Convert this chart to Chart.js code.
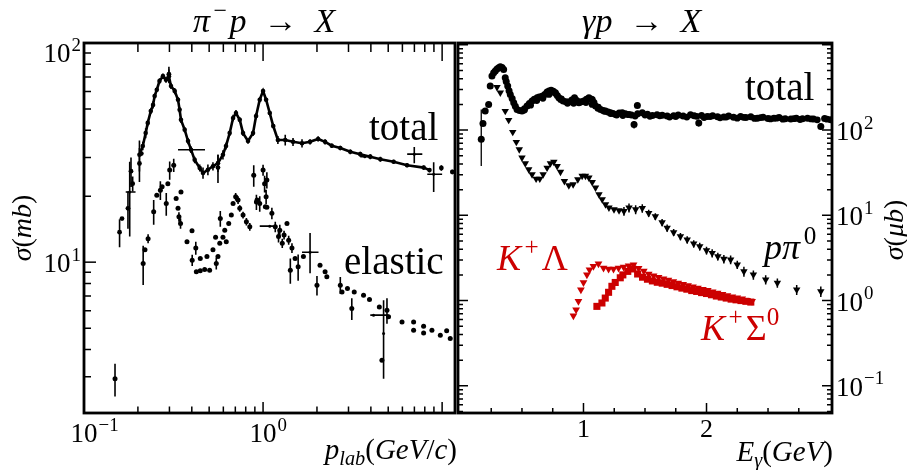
<!DOCTYPE html>
<html>
<head>
<meta charset="utf-8">
<script src="https://cdn.jsdelivr.net/npm/chart.js@4.4.1/dist/chart.umd.min.js"></script>
<style>
  html, body { margin: 0; padding: 0; background: #fff; }
  #wrap { position: relative; width: 907px; height: 470px; }
  #wrap canvas { position: absolute; left: 0; top: 0; }
</style>
</head>
<body>
<div id="wrap">
  <canvas id="pion-chart" width="907" height="470"></canvas>
  <canvas id="photo-chart" width="907" height="470"></canvas>
</div>
<script>
// ---- pi- p : total cross section (mb) vs p_lab (GeV/c) ----
var piTotP = [0.204, 0.213, 0.221, 0.227, 0.236, 0.243, 0.248, 0.255, 0.264, 0.276, 0.287, 0.298, 0.306, 0.321, 0.335,
              0.342, 0.348, 0.365, 0.381, 0.396, 0.415, 0.443, 0.462, 0.492, 0.525, 0.560, 0.597, 0.621, 0.651, 0.680,
              0.706, 0.741, 0.773, 0.824, 0.879, 0.914, 0.958, 1.0, 1.04, 1.09, 1.14, 1.21, 1.33, 1.47, 1.65,
              1.83, 2.03, 2.22, 2.42, 2.70, 3.07, 3.49, 3.97, 4.52, 5.36, 6.37, 7.89, 8.5];
var piTotS = [30.9, 33.9, 38.8, 43.2, 48.9, 52.2, 57.3, 61.2, 67.0, 70.6, 67.9, 70.6, 63.7, 60.4, 55.1,
              49.6, 44.6, 40.2, 35.7, 32.6, 29.3, 26.9, 25.5, 26.4, 27.4, 28.3, 30.9, 33.9, 38.8, 45.5,
              47.9, 44.6, 38.8, 35.7, 38.8, 46.4, 55.1, 60.4, 55.1, 47.9, 41.8, 36.1, 36.1, 35.4, 34.9,
              35.4, 36.5, 35.4, 34.0, 33.2, 31.9, 31.1, 30.3, 29.5, 28.7, 27.7, 27.0, 26.3];
var piTotErr = [5, 1.5, 2, 1.5, 1.5, 2, 1.5, 1.5, 2, 2, 2, 5, 2, 2, 1.5,
                1.5, 1.5, 1.2, 1.2, 1, 1, 1, 1.5, 1.5, 1.2, 2.5, 1.5, 1.2, 1.2, 1.5,
                1.5, 1.2, 1.2, 1, 1.2, 1.5, 1.5, 1.5, 1.2, 1.2, 1, 1.5, 2, 1.5, 1.5,
                1, 1, 1, 0.8, 0.8, 0.8, 0.8, 0.8, 0.8, 0.6, 0.6, 0.6, 0.6];

// scattered total measurements (threshold region and high-momentum tail)
var piLowP = [0.158, 0.163, 0.176, 0.183, 0.187, 0.204, 0.209, 0.56, 9.9, 11.4, 0.298];
var piLowS = [13.7, 15.8, 17.6, 26.0, 22.8, 28.2, 31.3, 27.0, 26.9, 25.8, 72];
var piLowErr = [2.0, 0, 3.4, 4, 1.8, 5, 0, 4, 0.8, 0.6, 6];

// ---- pi- p : elastic cross section (mb) ----
var piElP = [0.149, 0.214, 0.219, 0.228, 0.245, 0.255, 0.267, 0.273, 0.288, 0.294,
             0.301, 0.317, 0.327, 0.335, 0.339, 0.348, 0.346, 0.376, 0.401, 0.402,
             0.421, 0.424, 0.446, 0.446, 0.472, 0.486, 0.503, 0.525, 0.543, 0.548,
             0.560, 0.573, 0.577, 0.597, 0.611, 0.623, 0.643, 0.665, 0.680, 0.703,
             0.725, 0.741, 0.773, 0.807, 0.843, 0.887, 0.918, 0.926, 0.958, 1.0,
             1.02, 1.03, 1.04, 1.05, 1.05, 1.12, 1.17, 1.22, 1.24, 1.28,
             1.31, 1.36, 1.39, 1.42, 1.45, 1.51, 1.57, 1.68, 2.0, 2.08,
             2.22, 2.27, 2.70, 2.76, 2.96, 3.13, 3.23, 3.64, 3.93, 4.46,
             4.61, 4.92, 5.02, 5.97, 6.93, 6.93, 7.88, 7.88, 8.77, 9.77,
             10.6, 11.1];
var piElS = [2.94, 9.87, 11.4, 12.8, 17.0, 20.2, 21.3, 22.1, 18.5, 22.8,
             26.3, 27.7, 19.5, 17.6, 16.1, 20.9, 15.0, 12.4, 13.9, 10.2,
             11.6, 9.03, 10.4, 9.14, 9.27, 10.6, 9.18, 11.4, 13.0, 9.87,
             10.6, 12.2, 15.8, 13.0, 14.0, 12.4, 15.0, 16.4, 18.5, 19.9,
             19.2, 17.6, 16.4, 15.3, 14.5, 24.9, 18.8, 19.2, 18.5, 26.3,
             22.8, 17.9, 19.9, 23.7, 17.8, 16.7, 14.5, 13.1, 14.0, 12.2,
             13.3, 15.0, 12.6, 9.18, 11.6, 10.4, 9.53, 10.6, 7.85, 9.68,
             9.03, 8.57, 7.85, 7.31, 7.58, 6.15, 7.31, 7.06, 6.76, 6.25,
             3.57, 6.04, 5.63, 5.33, 5.33, 4.89, 5.10, 4.75, 4.89, 4.64,
             4.86, 4.48];
var piElErr = [0.5, 2.0, 0, 0.6, 2.2, 0, 2.1, 0, 2.2, 0,
               2.5, 1.9, 0, 0, 0.8, 0, 0.8, 0, 0, 0.6,
               0.8, 0, 0, 0, 0, 0, 0, 0, 0, 0.6,
               0, 0, 1.3, 0, 0, 0, 0, 0, 0, 0.8,
               0.8, 0.6, 0.6, 0.6, 0.6, 2.8, 1.5, 0, 1.5, 1.5,
               2, 0, 1.5, 2, 0, 1.0, 0.8, 0.8, 0.8, 0.6,
               0.6, 0, 0.6, 1.2, 0.6, 0, 1.3, 0, 0.8, 0,
               0, 0, 0.7, 0, 0, 0.7, 0, 0, 0, 0,
               0, 0.8, 0, 0, 0, 0, 0, 0, 0, 0,
               0, 0];

// points with momentum bins (horizontal bars)
var piBinP = [0.180, 0.396, 1.09, 1.83, 4.14, 4.71, 6.99, 8.97, 3.7];
var piBinS = [20.9, 32.6, 14.6, 11.1, 5.73, 4.72, 31.1, 25.2, 30.3];
var piBinPLo = [0.171, 0.335, 0.958, 1.65, 3.97, 4.71, 6.38, 8.26, 3.49];
var piBinPHi = [0.194, 0.474, 1.14, 2.04, 5.02, 4.71, 7.75, 10.0, 3.97];
var piBinSLo = [13.1, 31.5, 14.6, 8.9, 5.73, 2.94, 28.3, 20.9, 30.3];
var piBinSHi = [28.7, 33.7, 14.6, 13.6, 5.73, 6.7, 33.5, 28.6, 30.3];

// ---- gamma p : total photoabsorption (ub) vs E_gamma (GeV) ----
var gTotE = [0.183, 0.201, 0.229, 0.242, 0.256, 0.270, 0.283, 0.297, 0.311, 0.324, 0.338, 0.351, 0.364, 0.372, 0.384,
             0.395, 0.405, 0.420, 0.433, 0.446, 0.460, 0.480, 0.500, 0.520, 0.541, 0.560, 0.582, 0.600, 0.623, 0.640,
             0.663, 0.685, 0.704, 0.720, 0.737, 0.755, 0.772, 0.787, 0.800, 0.815, 0.835, 0.858, 0.881, 0.905, 0.927,
             0.945, 0.963, 0.983, 1.003, 1.024, 1.044, 1.060, 1.071, 1.085, 1.098, 1.118, 1.139, 1.160, 1.179, 1.200,
             1.220, 1.240, 1.261, 1.290, 1.315, 1.340, 1.370, 1.390, 1.440, 1.478, 1.520, 1.560, 1.598, 1.640, 1.680,
             1.733, 1.770, 1.810, 1.870, 1.900, 1.960, 2.006, 2.050, 2.090, 2.141, 2.180, 2.220, 2.277, 2.320, 2.360,
             2.413, 2.460, 2.500, 2.548, 2.590, 2.640, 2.685, 2.730, 2.780, 2.821, 2.870, 2.960, 3.011];
var gTotS = [119, 167, 200, 328, 430, 470, 492, 520, 537, 552, 540, 513, 410, 370, 328,
             290, 261, 235, 209, 190, 174, 170, 167, 178, 191, 205, 219, 230, 239, 244,
             250, 262, 279, 288, 294, 285, 274, 255, 239, 228, 219, 215, 213, 225, 239,
             222, 209, 215, 219, 230, 239, 232, 229, 210, 191, 180, 174, 170, 167, 163,
             160, 156, 152, 158, 160, 155, 152, 150, 155, 160, 153, 148, 151, 149, 146,
             147, 150, 146, 151, 147, 148, 144, 147, 143, 142, 146, 141, 144, 140, 143,
             138, 141, 137, 138, 140, 136, 135, 138, 136, 138, 135, 137, 132];
// second total data set overlapping the first
var gTot2E = [0.52, 0.57, 0.62, 0.67, 0.72, 0.77, 0.82, 0.87, 0.92, 0.97, 1.02, 1.07, 1.12, 1.17, 1.22,
              1.27, 1.32, 1.36, 1.42, 1.50, 1.54, 1.62, 1.70, 1.75, 1.84, 1.92, 1.98, 2.03, 2.11, 2.16,
              2.25, 2.30, 2.39, 2.44, 2.52, 2.57, 2.62, 2.71, 2.76, 2.85, 2.90, 2.98];
var gTot2S = [172, 196, 222, 236, 262, 270, 232, 206, 206, 213, 210, 200, 186, 166, 156,
              150, 148, 152, 146, 150, 145, 147, 142, 144, 142, 145, 140, 144, 139, 142,
              138, 141, 137, 140, 135, 138, 134, 136, 133, 135, 132, 134];
// total points drawn with their error bars
var gBarE = [0.169, 1.411, 1.438, 1.937, 2.929];
var gBarS = [78, 116, 194, 121, 110];
var gBarLo = [38, 104, 194, 110, 100];
var gBarHi = [174, 128, 194, 133, 120];

// ---- gamma p -> p pi0 ----
var pi0E = [0.297, 0.324, 0.364, 0.392, 0.425, 0.454, 0.478, 0.500, 0.527, 0.555,
            0.582, 0.615, 0.645, 0.672, 0.704, 0.731, 0.759, 0.786, 0.813, 0.845,
            0.881, 0.916, 0.954, 0.989, 1.016, 1.044, 1.071, 1.098, 1.126, 1.152,
            1.179, 1.207, 1.248, 1.289, 1.329, 1.370, 1.424, 1.478, 1.530, 1.584,
            1.639, 1.680, 1.733, 1.788, 1.843, 1.896, 1.945, 2.000, 2.046, 2.092,
            2.141, 2.196, 2.250, 2.304, 2.381, 2.481, 2.576, 2.733, 2.929];
var pi0S = [319, 274, 167, 131, 94.8, 72.3, 59.3, 47.4, 40.6, 34.5,
            30.2, 26.8, 26.8, 30.2, 36.1, 40.6, 42.2, 37.8, 32.2, 25.2,
            22.4, 23.0, 26.3, 28.9, 28.9, 27.6, 24.5, 21.1, 17.6, 15.4,
            13.4, 12.3, 11.7, 11.4, 11.2, 12.3, 11.7, 12.1, 10.6, 9.7,
            8.26, 7.10, 6.31, 5.66, 5.18, 4.65, 4.32, 3.88, 3.61, 3.30,
            3.08, 3.02, 2.64, 2.20, 2.01, 1.76, 1.61, 1.34, 1.28];
var pi0Err = [0, 0, 0, 0, 0, 0, 0, 0, 0, 0,
              0, 0, 0, 0, 0, 0, 0, 0, 0, 0,
              0, 0, 0, 0, 0, 0, 0, 0, 0, 0,
              0, 0, 0, 0, 1.3, 1.5, 1.4, 1.4, 1.0, 0.9,
              0.8, 0.7, 0.6, 0.55, 0.5, 0.45, 0.45, 0.4, 0.4, 0.35,
              0.35, 0.35, 0.3, 0.3, 0.25, 0.22, 0.2, 0.18, 0.18];

// ---- gamma p -> K+ Lambda and K+ Sigma0 ----
var kLamE = [0.918, 0.940, 0.959, 0.979, 1.000, 1.028, 1.049, 1.081, 1.122, 1.163, 1.204, 1.244, 1.285, 1.326, 1.367,
             1.407, 1.448, 1.49, 1.53, 1.57, 1.61, 1.65, 1.69, 1.73, 1.77, 1.81, 1.85, 1.89, 1.93, 1.97,
             2.01, 2.05, 2.09, 2.13, 2.17, 2.21, 2.25, 2.29, 2.33, 2.37];
var kLamS = [0.665, 0.782, 0.98, 1.34, 1.63, 2.01, 2.30, 2.52, 2.71, 2.41, 2.35, 2.35, 2.41, 2.48, 2.56,
             2.64, 2.40, 2.22, 2.05, 1.96, 1.88, 1.80, 1.74, 1.67, 1.61, 1.55, 1.50, 1.45, 1.40, 1.36,
             1.32, 1.27, 1.23, 1.19, 1.15, 1.11, 1.08, 1.05, 1.01, 0.98];
var kSigE = [1.109, 1.150, 1.177, 1.204, 1.231, 1.258, 1.299, 1.32, 1.36, 1.40, 1.44, 1.48, 1.52, 1.56, 1.60,
             1.64, 1.68, 1.72, 1.76, 1.80, 1.84, 1.88, 1.92, 1.96, 2.00, 2.04, 2.08, 2.12, 2.16, 2.20,
             2.24, 2.28, 2.32, 2.36];
var kSigS = [0.855, 0.937, 1.07, 1.25, 1.47, 1.63, 1.85, 2.0, 2.2, 2.35, 2.05, 1.88, 1.78, 1.70, 1.64,
             1.60, 1.55, 1.50, 1.45, 1.40, 1.36, 1.31, 1.28, 1.24, 1.21, 1.17, 1.13, 1.10, 1.07, 1.04,
             1.02, 1.00, 0.98, 0.96];

// ---- axis ticks ----
var piXMajor = [0.1, 1, 10];
var piXMinor = [0.2, 0.3, 0.4, 0.5, 0.6, 0.7, 0.8, 0.9, 2, 3, 4, 5, 6, 7, 8, 9];
var piXLabelAt = [0.1, 1];
var piXLabelExp = ['−1', '0'];
var piYMajor = [10, 100];
var piYMinor = [3, 4, 5, 6, 7, 8, 9, 20, 30, 40, 50, 60, 70, 80, 90];
var piYLabelAt = [10, 100];
var piYLabelExp = ['1', '2'];

var gXMajor = [1, 2];
var gXMinor = [0.25, 0.5, 0.75, 1.25, 1.5, 1.75, 2.25, 2.5, 2.75];
var gXLabels = ['1', '2'];
var gYMajor = [0.1, 1, 10, 100, 1000];
var gYMinor = [0.05, 0.06, 0.07, 0.08, 0.09, 0.2, 0.3, 0.4, 0.5, 0.6, 0.7, 0.8, 0.9,
               2, 3, 4, 5, 6, 7, 8, 9, 20, 30, 40, 50, 60, 70, 80, 90,
               200, 300, 400, 500, 600, 700, 800, 900];
var gYLabelAt = [0.1, 1, 10, 100];
var gYLabelExp = ['−1', '0', '1', '2'];

var RED = '#cc0000';
var FONT = '"Liberation Serif", "DejaVu Serif", serif';

// ---- text pieces: [text, style]  i = italic, ^ = superscript, _ = subscript ----
var piTitle = [['π', 'i'], ['−', '^'], ['p', 'i'], ['  →  ', ''], ['X', 'i']];
var gTitle = [['γ', 'i'], ['p', 'i'], ['  →  ', ''], ['X', 'i']];
var piXTitle = [['p', 'i'], ['lab', 'i_'], ['(', ''], ['GeV', 'i'], ['/', ''], ['c', 'i'], [')', '']];
var gXTitle = [['E', 'i'], ['γ', 'i_'], ['(', ''], ['GeV', 'i'], [')', '']];
var piYTitle = [['σ', 'i'], ['(', ''], ['mb', 'i'], [')', '']];
var gYTitle = [['σ', 'i'], ['(', ''], ['μb', 'i'], [')', '']];
var pi0Name = [['p', 'i'], ['π', 'i'], ['0', '^']];
var kLamName = [['K', 'i'], ['+', '^'], ['Λ', '']];
var kSigName = [['K', 'i'], ['+', '^'], ['Σ', ''], ['0', '^']];

function setFont(ctx, size, italic) {
    ctx.font = (italic ? 'italic ' : '') + size + 'px ' + FONT;
}

// horizontal advance of one piece, with a little room around scripts
function pieceAdvance(ctx, p, size, prev) {
    var sup = p[1].indexOf('^') >= 0, sub = p[1].indexOf('_') >= 0;
    setFont(ctx, sup || sub ? size * 0.7 : size, p[1].indexOf('i') >= 0);
    var lead = (sup && prev && prev[1].indexOf('i') >= 0) ? size * 0.1 : 0;
    var tail = sup ? size * 0.08 : 0;
    return { lead: lead, w: ctx.measureText(p[0]).width, tail: tail, sup: sup, sub: sub };
}

function richWidth(ctx, parts, size) {
    var w = 0;
    parts.forEach(function (p, i) {
        var a = pieceAdvance(ctx, p, size, parts[i - 1]);
        w += a.lead + a.w + a.tail;
    });
    return w;
}

function drawRich(ctx, parts, x, y, size, color, align) {
    var w = richWidth(ctx, parts, size);
    var cx = align === 'right' ? x - w : align === 'center' ? x - w / 2 : x;
    ctx.fillStyle = color;
    ctx.textAlign = 'left';
    ctx.textBaseline = 'alphabetic';
    parts.forEach(function (p, i) {
        var a = pieceAdvance(ctx, p, size, parts[i - 1]);
        var dy = a.sup ? -size * 0.42 : a.sub ? size * 0.22 : 0;
        ctx.fillText(p[0], cx + a.lead, y + dy);
        cx += a.lead + a.w + a.tail;
    });
}

// "10^n" tick label; align 'center' centres the 10 on x
function drawPow(ctx, exp, x, y, size, align) {
    setFont(ctx, size, false);
    var wb = ctx.measureText('10').width;
    setFont(ctx, size * 0.7, false);
    var we = ctx.measureText(exp).width;
    var x0 = align === 'center' ? x - wb / 2 : align === 'right' ? x - wb - we - 1 : x;
    ctx.fillStyle = '#000';
    ctx.textAlign = 'left';
    ctx.textBaseline = 'alphabetic';
    setFont(ctx, size, false);
    ctx.fillText('10', x0, y);
    setFont(ctx, size * 0.7, false);
    ctx.fillText(exp, x0 + wb + 1, y - size * 0.42);
}

function points(xs, ys, errs) {
    return xs.map(function (x, i) {
        var e = errs ? errs[i] : 0;
        var d = { x: x, y: ys[i] };
        if (e) { d.lo = ys[i] - e; d.hi = ys[i] + e; }
        return d;
    });
}

function boundPoints(xs, ys, xlo, xhi, ylo, yhi) {
    return xs.map(function (x, i) {
        return { x: x, y: ys[i], xlo: xlo ? xlo[i] : x, xhi: xhi ? xhi[i] : x, lo: ylo[i], hi: yhi[i] };
    });
}

// error bars, drawn under the markers
var errorBars = {
    id: 'errorBars',
    beforeDatasetsDraw: function (chart) {
        var ctx = chart.ctx, a = chart.chartArea, sx = chart.scales.x, sy = chart.scales.y;
        ctx.save();
        ctx.beginPath();
        ctx.rect(a.left, a.top, a.width, a.height);
        ctx.clip();
        chart.data.datasets.forEach(function (ds) {
            ctx.strokeStyle = ds.pointBackgroundColor;
            ctx.lineWidth = ds.errWidth || 1.6;
            ctx.beginPath();
            ds.data.forEach(function (d) {
                var px = sx.getPixelForValue(d.x), py = sy.getPixelForValue(d.y);
                if (d.lo !== undefined && d.hi !== d.lo) {
                    var lo = Math.max(d.lo, sy.min);
                    ctx.moveTo(px, sy.getPixelForValue(lo));
                    ctx.lineTo(px, sy.getPixelForValue(d.hi));
                }
                if (d.xlo !== undefined && d.xhi !== d.xlo) {
                    ctx.moveTo(sx.getPixelForValue(d.xlo), py);
                    ctx.lineTo(sx.getPixelForValue(d.xhi), py);
                }
            });
            ctx.stroke();
        });
        ctx.restore();
    }
};

// inward tick marks along one side of the frame
function marks(chart, axis, vals, len, side) {
    var ctx = chart.ctx, a = chart.chartArea, sc = chart.scales[axis];
    ctx.beginPath();
    vals.forEach(function (v) {
        var p = sc.getPixelForValue(v);
        if (axis === 'x') {
            if (p <= a.left + 1 || p >= a.right - 1) return;
            var y0 = side === 'top' ? a.top : a.bottom;
            ctx.moveTo(p, y0);
            ctx.lineTo(p, side === 'top' ? y0 + len : y0 - len);
        } else {
            if (p <= a.top + 1 || p >= a.bottom - 1) return;
            var x0 = side === 'right' ? a.right : a.left;
            ctx.moveTo(x0, p);
            ctx.lineTo(side === 'right' ? x0 - len : x0 + len, p);
        }
    });
    ctx.stroke();
}

function frame(chart) {
    var ctx = chart.ctx, a = chart.chartArea;
    ctx.strokeStyle = '#000';
    ctx.lineWidth = 2.8;
    ctx.strokeRect(a.left, a.top, a.width, a.height);
}

var pionDecor = {
    id: 'pionDecor',
    afterDraw: function (chart) {
        var ctx = chart.ctx, a = chart.chartArea, sx = chart.scales.x, sy = chart.scales.y;
        ctx.save();
        frame(chart);
        ctx.lineWidth = 1.5;
        marks(chart, 'x', piXMajor, 11, 'bottom');
        marks(chart, 'x', piXMinor, 6.5, 'bottom');
        marks(chart, 'x', piXMajor, 18, 'top');
        marks(chart, 'x', piXMinor, 9, 'top');
        marks(chart, 'y', piYMajor, 12, 'left');
        marks(chart, 'y', piYMinor, 7, 'left');

        piXLabelAt.forEach(function (v, i) {
            drawPow(ctx, piXLabelExp[i], sx.getPixelForValue(v), 442, 27, 'center');
        });
        piYLabelAt.forEach(function (v, i) {
            drawPow(ctx, piYLabelExp[i], a.left - 3, Math.max(sy.getPixelForValue(v) + 10, a.top + 19), 27, 'right');
        });

        drawRich(ctx, piTitle, 193, 32, 34, '#000', 'left');
        drawRich(ctx, [['total', '']], 369, 140, 39, '#000', 'left');
        drawRich(ctx, [['elastic', '']], 344, 274, 39, '#000', 'left');
        drawRich(ctx, piXTitle, 457, 459, 29, '#000', 'right');

        ctx.translate(22, 228);
        ctx.rotate(-Math.PI / 2);
        drawRich(ctx, piYTitle, 0, 9, 28, '#000', 'center');
        ctx.restore();
    }
};

var photoDecor = {
    id: 'photoDecor',
    afterDraw: function (chart) {
        var ctx = chart.ctx, a = chart.chartArea, sx = chart.scales.x, sy = chart.scales.y;
        ctx.save();
        frame(chart);
        ctx.lineWidth = 1.5;
        marks(chart, 'x', gXMajor, 10, 'bottom');
        marks(chart, 'x', gXMinor, 5, 'bottom');
        marks(chart, 'y', gYMajor, 10, 'left');
        marks(chart, 'y', gYMinor, 5, 'left');
        marks(chart, 'y', gYMajor, 10, 'right');
        marks(chart, 'y', gYMinor, 5, 'right');

        ctx.fillStyle = '#000';
        setFont(ctx, 26, false);
        ctx.textAlign = 'center';
        ctx.textBaseline = 'alphabetic';
        gXMajor.forEach(function (v, i) {
            ctx.fillText(gXLabels[i], sx.getPixelForValue(v), 437);
        });
        gYLabelAt.forEach(function (v, i) {
            drawPow(ctx, gYLabelExp[i], a.right + 4, sy.getPixelForValue(v) + 10, 27, 'left');
        });

        drawRich(ctx, gTitle, 582, 32, 34, '#000', 'left');
        drawRich(ctx, [['total', '']], 745, 100, 39, '#000', 'left');
        drawRich(ctx, pi0Name, 764, 259, 36, '#000', 'left');
        drawRich(ctx, kLamName, 497, 270, 36, RED, 'left');
        drawRich(ctx, kSigName, 701, 340, 36, RED, 'left');
        drawRich(ctx, gXTitle, 833, 461, 29, '#000', 'right');

        ctx.translate(894, 230);
        ctx.rotate(-Math.PI / 2);
        drawRich(ctx, gYTitle, 0, 9, 28, '#000', 'center');
        ctx.restore();
    }
};

function markers(data, style, radius, color, extra) {
    var ds = {
        data: data,
        pointStyle: style,
        pointRadius: radius,
        pointBackgroundColor: color,
        pointBorderColor: color,
        pointBorderWidth: 0,
        borderColor: color,
        showLine: false
    };
    return Object.assign(ds, extra || {});
}

var baseOptions = function (padding, xScale, yScale) {
    return {
        responsive: false,
        animation: false,
        events: [],
        layout: { padding: padding },
        scales: { x: xScale, y: yScale },
        plugins: { legend: { display: false }, tooltip: { enabled: false } }
    };
};

// left panel: pi- p
new Chart(document.getElementById('pion-chart'), {
    type: 'scatter',
    data: {
        datasets: [
            markers(points(piTotP, piTotS, piTotErr), 'circle', 2.3, '#000',
                    { showLine: true, borderWidth: 2.6, tension: 0 }),
            markers(points(piLowP, piLowS, piLowErr), 'circle', 2.4, '#000'),
            markers(points(piElP, piElS, piElErr), 'circle', 2.5, '#000'),
            markers(boundPoints(piBinP, piBinS, piBinPLo, piBinPHi, piBinSLo, piBinSHi), 'circle', 1.5, '#000')
        ]
    },
    options: baseOptions({ left: 84, right: 452, top: 43, bottom: 57 },
        { type: 'logarithmic', min: 0.1, max: 11.8, display: false },
        { type: 'logarithmic', min: 2.05, max: 100, display: false }),
    plugins: [errorBars, pionDecor]
});

// right panel: gamma p
new Chart(document.getElementById('photo-chart'), {
    type: 'scatter',
    data: {
        datasets: [
            markers(points(gTot2E, gTot2S), 'circle', 3.4, '#000'),
            markers(points(gTotE, gTotS), 'circle', 3.5, '#000'),
            markers(boundPoints(gBarE, gBarS, null, null, gBarLo, gBarHi), 'circle', 3.5, '#000', { errWidth: 1.3 }),
            markers(points(pi0E, pi0S, pi0Err), 'triangle', 4.3, '#000', { pointRotation: 180, errWidth: 1.5 }),
            markers(points(kSigE, kSigS), 'rect', 5, RED),
            markers(points(kLamE, kLamS), 'triangle', 4.5, RED, { pointRotation: 180 })
        ]
    },
    options: baseOptions({ left: 458, right: 75, top: 43, bottom: 57 },
        { type: 'linear', min: -0.02, max: 3.02, display: false },
        { type: 'logarithmic', min: 0.048, max: 1050, display: false }),
    plugins: [errorBars, photoDecor]
});
</script>
</body>
</html>
